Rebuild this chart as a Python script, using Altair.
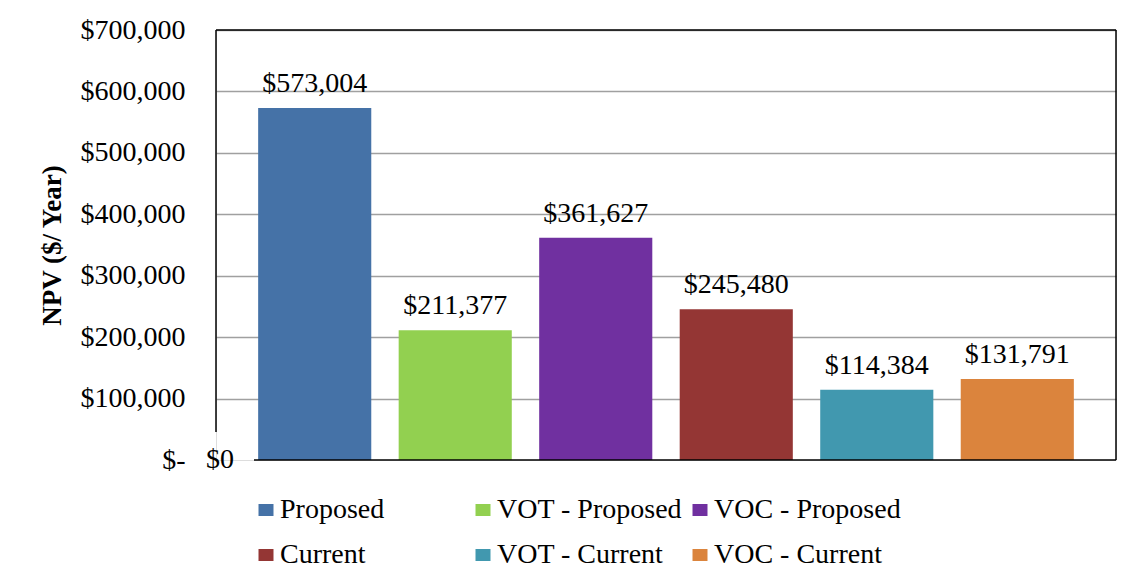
import altair as alt
import pandas as pd

categories = ["Proposed", "VOT - Proposed", "VOC - Proposed",
              "Current", "VOT - Current", "VOC - Current"]
npv_values = [573004, 211377, 361627, 245480, 114384, 131791]
bar_colors = ["#4572A7", "#92D050", "#7030A0", "#943634", "#4198AF", "#DB843D"]
y_ticks = [0, 100000, 200000, 300000, 400000, 500000, 600000, 700000]

FONT = "Liberation Serif"
W, H = 900, 430

df = pd.DataFrame({"cat": categories, "npv": npv_values})

x_enc = alt.X("cat:N", sort=categories, axis=None,
              scale=alt.Scale(paddingInner=0.195, paddingOuter=0.3))
y_scale = alt.Scale(domain=[0, 700000], nice=False)

bars = alt.Chart(df).mark_bar().encode(
    x=x_enc,
    y=alt.Y("npv:Q", scale=y_scale,
            axis=alt.Axis(
                values=y_ticks, tickSize=0, domain=False,
                labelExpr="datum.value === 0 ? '$-\u00a0' : format(datum.value, '$,.0f')",
                labelFont=FONT, labelFontSize=28, labelColor="black", labelPadding=31,
                gridColor="#A0A0A0", gridWidth=1.3,
                gridOpacity={"condition": {"test": "datum.value === 0", "value": 0}, "value": 1},
                title="NPV ($/ Year)", titleFont=FONT, titleFontSize=27, titleFontWeight="bold",
                titleColor="black", titleX=-150, titleY=215, titleAngle=270,
                titleBaseline="bottom", titleAlign="center")),
    color=alt.Color("cat:N", sort=categories,
                    scale=alt.Scale(domain=categories, range=bar_colors),
                    legend=alt.Legend(
                        title=None, orient="none", legendX=36, legendY=466,
                        columns=3, gridAlign="all", columnPadding=2, rowPadding=17,
                        padding=0, labelFont=FONT, labelFontSize=28, labelColor="black",
                        labelLimit=400, labelOffset=0, symbolSize=225,
                        symbolType="M-1,-0.8H1V0.8H-1Z", symbolStrokeWidth=0,
                        direction="horizontal")),
)

labels = alt.Chart(df).mark_text(
    font=FONT, fontSize=28, color="black", baseline="alphabetic", dy=-16
).encode(
    x=x_enc,
    y=alt.Y("npv:Q", scale=y_scale),
    text=alt.Text("npv:Q", format="$,.0f"),
)

one = pd.DataFrame({"k": [0]})

top_rule = alt.Chart(one).mark_rule(color="black", strokeWidth=1.5).encode(
    x=alt.value(0), x2=alt.value(W), y=alt.value(0))
right_rule = alt.Chart(one).mark_rule(color="black", strokeWidth=1.5).encode(
    x=alt.value(W), y=alt.value(0), y2=alt.value(H))
left_rule = alt.Chart(one).mark_rule(color="black", strokeWidth=1.5).encode(
    x=alt.value(0), y=alt.value(0), y2=alt.value(H - 28))
bottom_rule = alt.Chart(one).mark_rule(color="black", strokeWidth=1.5).encode(
    x=alt.value(38), x2=alt.value(W), y=alt.value(H))

zero_text = alt.Chart(pd.DataFrame({"t": ["$0"]})).mark_text(
    font=FONT, fontSize=28, color="black", align="center", baseline="middle"
).encode(x=alt.value(4), y=alt.value(H), text="t:N")

chart = alt.layer(bars, labels, top_rule, right_rule, left_rule, bottom_rule, zero_text).properties(
    width=W, height=H,
    autosize=alt.AutoSizeParams(type="none"),
    padding={"left": 208, "top": 22, "right": 12, "bottom": 122},
    background="white",
).configure_view(stroke=None).configure(font=FONT)

chart.save("out.html", embed_options={"renderer": "svg", "actions": False})
